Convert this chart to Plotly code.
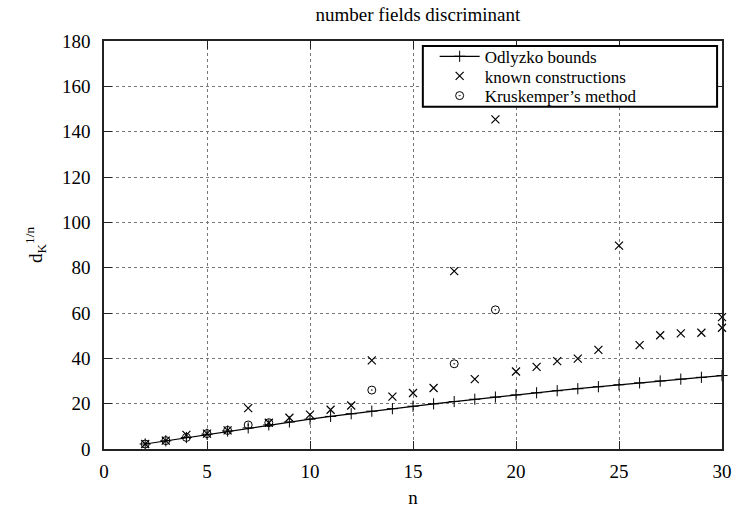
import plotly.graph_objects as go

# Odlyzko bounds
odl_n = list(range(2, 31))
odl_v = [2.22, 3.61, 5.07, 6.52, 7.94, 9.31, 10.64, 11.93, 13.17, 14.38, 15.55,
         16.69, 17.79, 18.87, 19.92, 20.94, 21.94, 22.91, 23.87, 24.80, 25.71,
         26.60, 27.48, 28.34, 29.18, 30.01, 30.82, 31.62, 32.40]

# known constructions
kc_n = [2, 3, 4, 5, 6, 7, 8, 9, 10, 11, 12, 13, 14, 15, 16, 17, 18, 19, 20,
        21, 22, 23, 24, 25, 26, 27, 28, 29, 30, 30]
kc_v = [2.2, 3.7, 6.2, 6.8, 8.2, 18.0, 11.6, 13.8, 15.2, 17.3, 19.2, 39.1,
        23.1, 24.7, 26.9, 78.5, 30.8, 145.4, 34.2, 36.2, 38.8, 39.9, 43.7,
        89.7, 45.8, 50.2, 51.0, 51.3, 53.5, 58.2]

# Kruskemper's method
kr_n = [2, 3, 4, 5, 6, 7, 8, 13, 17, 19]
kr_v = [2.2, 3.7, 5.1, 6.8, 8.2, 10.6, 11.6, 26.0, 37.6, 61.4]

x_ticks = [0, 5, 10, 15, 20, 25, 30]
y_ticks = [0, 20, 40, 60, 80, 100, 120, 140, 160, 180]

FONT = "Liberation Serif, Times New Roman, serif"
FS = 19
LFS = 17

fig = go.Figure()
fig.add_trace(go.Scatter(
    x=odl_n, y=odl_v, mode="lines+markers", name="Odlyzko bounds",
    line=dict(color="black", width=1.2),
    marker=dict(symbol="cross-thin", size=8, color="black",
                line=dict(color="black", width=1)),
    cliponaxis=False, legend="legend"))
fig.add_trace(go.Scatter(
    x=kc_n, y=kc_v, mode="markers", name="known constructions",
    marker=dict(symbol="x-thin", size=8, color="black",
                line=dict(color="black", width=1.2)),
    cliponaxis=False, legend="legend2"))
fig.add_trace(go.Scatter(
    x=kr_n, y=kr_v, mode="markers", name="Kruskemper’s method",
    marker=dict(symbol="circle-open-dot", size=8, color="black",
                line=dict(color="black", width=1)),
    cliponaxis=False, legend="legend3"))

axis_common = dict(
    showline=True, linecolor="#222", linewidth=1.5, mirror="ticks",
    ticks="inside", ticklen=8, tickwidth=1, tickcolor="#222",
    showgrid=True, gridcolor="#777", gridwidth=1, griddash="dot",
    zeroline=False, tickfont=dict(family=FONT, size=FS, color="black"),
)

# plot-area geometry in pixels (for placing legend pieces in paper units)
PL, PR, PT, PB = 104, 732, 41, 456
def px_x(p):
    return (p - PL) / (PR - PL)
def px_y(p):
    return (PB - p) / (PB - PT)

leg_common = dict(bgcolor="rgba(0,0,0,0)", borderwidth=0,
                  font=dict(family=FONT, size=LFS, color="black"),
                  xanchor="left", yanchor="middle", itemwidth=40)

fig.update_layout(
    width=743, height=516,
    margin=dict(l=PL, r=743 - PR, t=PT, b=516 - PB),
    paper_bgcolor="white", plot_bgcolor="white",
    font=dict(family=FONT, size=FS, color="black"),
    title=dict(text="number fields discriminant", x=0.5625, xanchor="center",
               y=0.972, yanchor="middle", font=dict(family=FONT, size=FS)),
    xaxis=dict(range=[0, 30], tickvals=x_ticks, ticklabelstandoff=4,
               title=dict(text="n", standoff=10, font=dict(family=FONT, size=FS)),
               **axis_common),
    yaxis=dict(range=[0, 180], tickvals=y_ticks, ticklabelstandoff=8,
               title=dict(text="d<sub>K</sub><sup>1/n</sup>", standoff=14,
                          font=dict(family=FONT, size=FS)),
               **axis_common),
    legend=dict(x=px_x(440), y=px_y(57), **leg_common),
    legend2=dict(x=px_x(440), y=px_y(77), **leg_common),
    legend3=dict(x=px_x(440), y=px_y(97), **leg_common),
    showlegend=True,
    shapes=[dict(type="rect", xref="paper", yref="paper",
                 x0=px_x(428), x1=px_x(727), y0=px_y(108), y1=px_y(46),
                 line=dict(color="black", width=2), fillcolor="white",
                 layer="above")],
)

fig.write_html("out.html")
